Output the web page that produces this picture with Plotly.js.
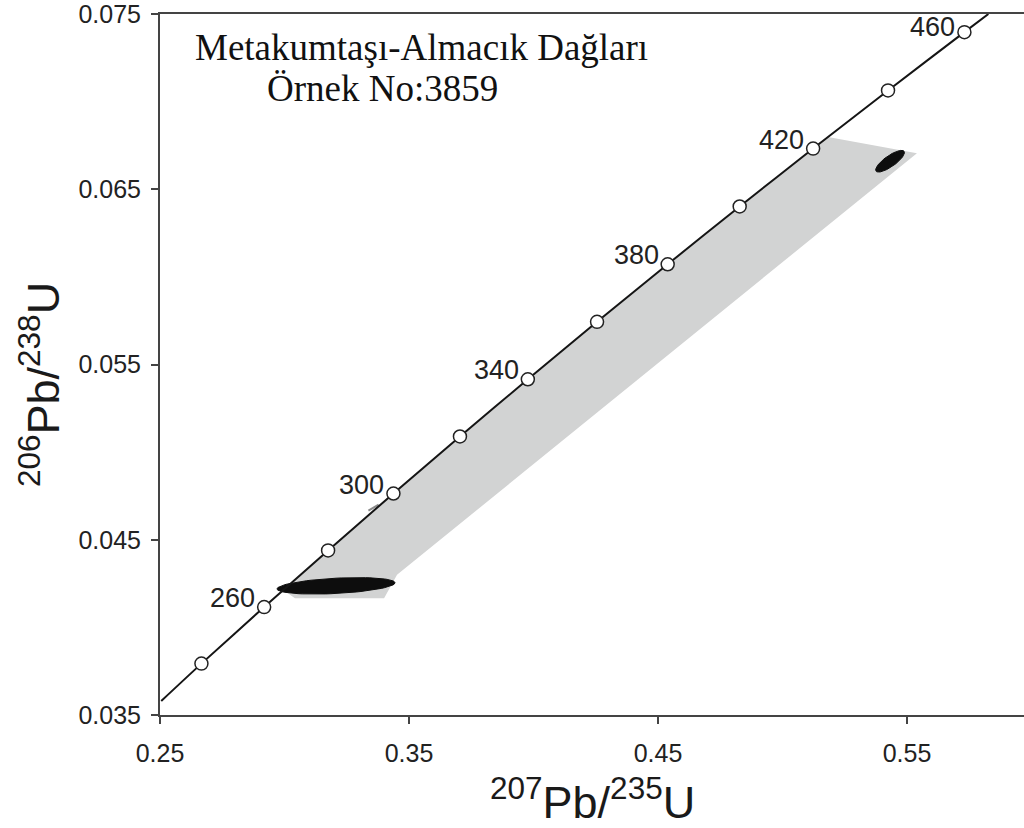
<!DOCTYPE html>
<html>
<head>
<meta charset="utf-8">
<script src="https://cdn.plot.ly/plotly-3.0.1.min.js"></script>
<style>
  html, body { margin: 0; padding: 0; background: #ffffff; }
  #chart { width: 1024px; height: 828px; }
</style>
</head>
<body>
<div id="chart"></div>
<script>
// Concordia reference points (Ma) and their isotope ratios
const ages = [240, 260, 280, 300, 320, 340, 360, 380, 400, 420, 440, 460];
const conX = [0.26664, 0.29183, 0.31751, 0.34375, 0.37047, 0.39773, 0.42553, 0.45389, 0.48281, 0.51231, 0.54239, 0.57307];
const conY = [0.037932, 0.041157, 0.044392, 0.047638, 0.050893, 0.054158, 0.057434, 0.060719, 0.064016, 0.067322, 0.070638, 0.073965];
const labelledAges = [260, 300, 340, 380, 420, 460];

// Concordia curve, extended to the plot edges
const curveX = [0.2505, ...conX, 0.5827];
const curveY = [0.0358, ...conY, 0.0750];

// Discordia error envelope
const envX = [0.2998, 0.31751, 0.34375, 0.37047, 0.39773, 0.42553, 0.45389, 0.48281, 0.51231, 0.5183, 0.5540, 0.3452, 0.3400, 0.3042, 0.2998];
const envY = [0.0421, 0.044392, 0.047638, 0.050893, 0.054158, 0.057434, 0.060719, 0.064016, 0.067322, 0.06798, 0.06706, 0.04300, 0.04166, 0.04166, 0.0421];

// Analyses: centre, 2-sigma half widths and error correlation
const ellCx = [0.3207, 0.5432];
const ellCy = [0.04237, 0.0666];
const ellSx = [0.0237, 0.0058];
const ellSy = [0.00047, 0.00062];
const ellRho = [0.37, 0.80];

// Small analysis near 300 Ma
const dashX = [0.3337, 0.3378];
const dashY = [0.04666, 0.0470];

function ellipse(cx, cy, sx, sy, rho) {
  const xs = [], ys = [];
  const k = Math.sqrt(1 - rho * rho);
  for (let i = 0; i <= 72; i++) {
    const t = (i / 72) * 2 * Math.PI;
    xs.push(cx + sx * Math.cos(t));
    ys.push(cy + sy * (rho * Math.cos(t) + k * Math.sin(t)));
  }
  return { xs, ys };
}

const traces = [];
traces.push({
  x: envX, y: envY, mode: 'lines', fill: 'toself',
  fillcolor: '#d2d3d3', line: { width: 0, color: '#d2d3d3' },
  hoverinfo: 'skip', showlegend: false
});
for (let i = 0; i < ellCx.length; i++) {
  const e = ellipse(ellCx[i], ellCy[i], ellSx[i], ellSy[i], ellRho[i]);
  traces.push({
    x: e.xs, y: e.ys, mode: 'lines', fill: 'toself',
    fillcolor: '#0d0d0d', line: { width: 1, color: '#0d0d0d' },
    hoverinfo: 'skip', showlegend: false
  });
}
traces.push({
  x: dashX, y: dashY, mode: 'lines',
  line: { width: 2, color: '#8a8a8a' }, hoverinfo: 'skip', showlegend: false
});
traces.push({
  x: curveX, y: curveY, mode: 'lines',
  line: { width: 2, color: '#151515', shape: 'spline', smoothing: 0.6 },
  hoverinfo: 'skip', showlegend: false
});
traces.push({
  x: conX, y: conY, mode: 'markers',
  marker: { size: 13, color: '#ffffff', line: { width: 1.5, color: '#222222' } },
  text: ages.map(String), hoverinfo: 'text', showlegend: false
});

const labelShiftY = { 260: 9, 300: 9, 340: 9, 380: 9, 420: 9, 460: 5 };
const annotations = labelledAges.map(a => {
  const i = ages.indexOf(a);
  return {
    x: conX[i], y: conY[i], xref: 'x', yref: 'y',
    text: String(a), showarrow: false,
    xanchor: 'right', yanchor: 'middle', xshift: -7, yshift: labelShiftY[a],
    font: { family: 'Liberation Sans, Arial, sans-serif', size: 27, color: '#222222' }
  };
});

annotations.push({
  xref: 'paper', yref: 'paper', x: 0.0382, y: 0.9515,
  xanchor: 'left', yanchor: 'middle', showarrow: false,
  text: 'Metakumtaşı-Almacık Dağları',
  font: { family: 'Liberation Serif, Times New Roman, serif', size: 37, color: '#111111' }
});
annotations.push({
  xref: 'paper', yref: 'paper', x: 0.1215, y: 0.8944,
  xanchor: 'left', yanchor: 'middle', showarrow: false,
  text: 'Örnek No:3859',
  font: { family: 'Liberation Serif, Times New Roman, serif', size: 37, color: '#111111' }
});
annotations.push({
  xref: 'paper', yref: 'paper', x: 0.5, y: -0.12,
  xanchor: 'center', yanchor: 'middle', showarrow: false,
  text: '<sup>207</sup>Pb/<sup>235</sup>U',
  font: { family: 'Liberation Sans, Arial, sans-serif', size: 45, color: '#1a1a1a' }
});
annotations.push({
  xref: 'paper', yref: 'paper', x: -0.139, y: 0.472,
  xanchor: 'center', yanchor: 'middle', showarrow: false, textangle: -90,
  text: '<sup>206</sup>Pb/<sup>238</sup>U',
  font: { family: 'Liberation Sans, Arial, sans-serif', size: 45, color: '#1a1a1a' }
});

function axisBase() {
  return {
    showgrid: false, zeroline: false, showline: true,
    linecolor: '#444444', linewidth: 2,
    ticks: 'outside', ticklen: 7, tickwidth: 2, tickcolor: '#444444',
    ticklabeloverflow: 'allow',
    tickfont: { family: 'Liberation Sans, Arial, sans-serif', size: 25, color: '#222222' }
  };
}

const layout = {
  width: 1024, height: 828,
  margin: { l: 160, r: 0, t: 14, b: 113 },
  paper_bgcolor: '#ffffff', plot_bgcolor: '#ffffff',
  showlegend: false,
  xaxis: Object.assign(axisBase(), {
    range: [0.25, 0.597], tickvals: [0.25, 0.35, 0.45, 0.55],
    tickformat: '.2f', mirror: true, ticklabelstandoff: 8
  }),
  yaxis: Object.assign(axisBase(), {
    range: [0.035, 0.075], tickvals: [0.035, 0.045, 0.055, 0.065, 0.075],
    tickformat: '.3f', ticklabelstandoff: 5
  }),
  annotations: annotations
};

Plotly.newPlot('chart', traces, layout, { displayModeBar: false, staticPlot: true });
</script>
</body>
</html>
